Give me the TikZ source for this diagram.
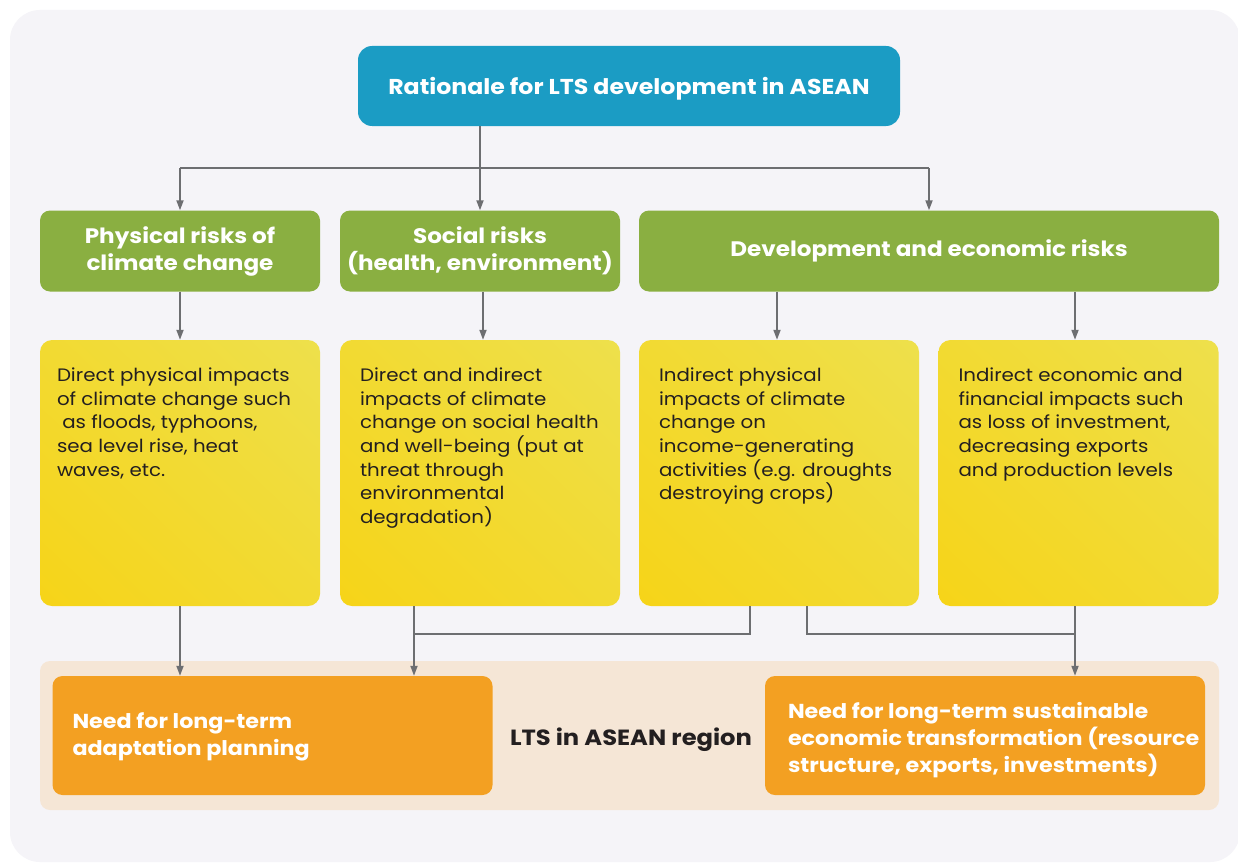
\documentclass[tikz,border=0pt]{standalone}
\usepackage{fontspec}
\setmainfont{Poppins}[FakeStretch=1.1]
\usetikzlibrary{arrows.meta,shadings}
\definecolor{bgc}{HTML}{F5F4F8}
\definecolor{bluec}{HTML}{1B9CC4}
\definecolor{greenc}{HTML}{8AAF41}
\definecolor{yelA}{HTML}{F6D418}
\definecolor{yelB}{HTML}{EEE04C}
\definecolor{yelC}{HTML}{F2DA32}
\definecolor{bandc}{HTML}{F5E6D6}
\definecolor{orangec}{HTML}{F3A022}
\definecolor{linec}{HTML}{6D6E71}
\definecolor{darkc}{HTML}{231F20}
\tikzset{
  bluebox/.style={fill=bluec, rounded corners=14pt, minimum width=542pt, minimum height=80pt, inner sep=0pt},
  bluetext/.style={inner sep=0pt, text=white, font=\fontsize{21.5}{26}\selectfont\bfseries},
  greenbox/.style={fill=greenc, rounded corners=10pt, minimum height=81pt, inner sep=0pt,
    text=white, align=center, font=\fontsize{21}{27}\selectfont\bfseries},
  yellowbox/.style={rounded corners=12pt, minimum width=280pt, minimum height=266pt, inner sep=0pt,
    lower left=yelA, upper right=yelB, upper left=yelC, lower right=yelC},
  ytext/.style={anchor=north west, inner sep=0pt, align=left, text=darkc,
    font=\fontsize{18}{23.6}\selectfont},
  bandbox/.style={fill=bandc, rounded corners=10pt, minimum width=1179pt, minimum height=149pt, inner sep=0pt},
  orangebox/.style={fill=orangec, rounded corners=10pt, minimum width=440pt, minimum height=119pt, inner sep=0pt},
  otext/.style={anchor=west, inner sep=0pt, align=left, text=white, font=\fontsize{20.2}{27}\selectfont\bfseries},
  ln/.style={draw=linec, line width=1.8pt},
  arr/.style={ln, -{Triangle[length=10pt,width=7pt]}},
}
\begin{document}
\begin{tikzpicture}[x=1pt,y=-1pt]
\useasboundingbox (0,0) rectangle (1238,864);
\fill[white] (0,0) rectangle (1238,864);
\fill[bgc, rounded corners=30pt] (10,10) rectangle (1240,862);

\node[bluebox] (blue) at (629,86) {};
\node[bluetext] (bluet) at ([yshift=-2.5pt]blue.center) {Rationale for LTS development in ASEAN};

\node[greenbox, minimum width=280pt] (g1) at (180,251) {Physical risks of\\climate change};
\node[greenbox, minimum width=280pt] (g2) at (480,251) {Social risks\\(health, environment)};
\node[greenbox, minimum width=580pt] (g3) at (929,251) {Development and economic risks};

\node[yellowbox, shade] (y1) at (180,473) {};
\node[yellowbox, shade] (y2) at (480,473) {};
\node[yellowbox, shade] (y3) at (779,473) {};
\node[yellowbox, shade] (y4) at (1078.5,473) {};

\node[ytext] (t1) at ([xshift=17pt,yshift=-28pt]y1.north west)
  {Direct physical impacts\\of climate change such\\\ as floods, typhoons,\\sea level rise, heat\\waves, etc.};
\node[ytext] (t2) at ([xshift=20pt,yshift=-28pt]y2.north west)
  {Direct and indirect\\impacts of climate\\change on social health\\and well-being (put at\\threat through\\environmental\\degradation)};
\node[ytext] (t3) at ([xshift=20pt,yshift=-28pt]y3.north west)
  {Indirect physical\\impacts of climate\\change on\\income-generating\\activities (e.g. droughts\\destroying crops)};
\node[ytext] (t4) at ([xshift=20pt,yshift=-28pt]y4.north west)
  {Indirect economic and\\financial impacts such\\as loss of investment,\\decreasing exports\\and production levels};

\node[bandbox] (band) at (629.5,735.5) {};
\node[orangebox] (o1) at (272.5,735.5) {};
\node[orangebox] (o2) at (985,735.5) {};
\node[otext] (ot1) at ([xshift=20pt,yshift=-1pt]o1.west) {Need for long-term\\adaptation planning};
\node[otext] (ot2) at ([xshift=23pt,yshift=-5pt]o2.west) {Need for long-term sustainable\\economic transformation (resource\\structure, exports, investments)};
\node[inner sep=0pt, text=darkc, font=\fontsize{22}{26}\selectfont\bfseries] (lts) at (631,740) {LTS in ASEAN region};

% top connectors
\coordinate (hb) at (0,168);
\draw[arr] (g2.north |- blue.south) -- (g2.north);
\draw[ln] (hb -| g1.north) -- (hb -| g3.north);
\draw[arr] (hb -| g1.north) -- (g1.north);
\draw[arr] (hb -| g3.north) -- (g3.north);

% green to yellow
\coordinate (c2) at (483,0);
\coordinate (c3) at (777,0);
\coordinate (c4) at (1075,0);
\draw[arr] (g2.south -| c2) -- (y2.north -| c2);
\draw[arr] (g1.south) -- (y1.north);
\draw[arr] (g3.south -| c3) -- (y3.north -| c3);
\draw[arr] (g3.south -| c4) -- (y4.north -| c4);

% bottom connectors
\coordinate (jl) at (414,634);
\coordinate (jr) at (1075,634);
\coordinate (k3l) at (750,634);
\coordinate (k3r) at (807,634);
\draw[arr] (y1.south) -- (y1.south |- o1.north);
\draw[arr] (jl |- y2.south) -- (jl |- o1.north);
\draw[ln] (k3l |- y3.south) -- (k3l) -- (jl);
\draw[ln] (k3r |- y3.south) -- (k3r) -- (jr);
\draw[arr] (jr |- y4.south) -- (jr |- o2.north);
\end{tikzpicture}
\end{document}
